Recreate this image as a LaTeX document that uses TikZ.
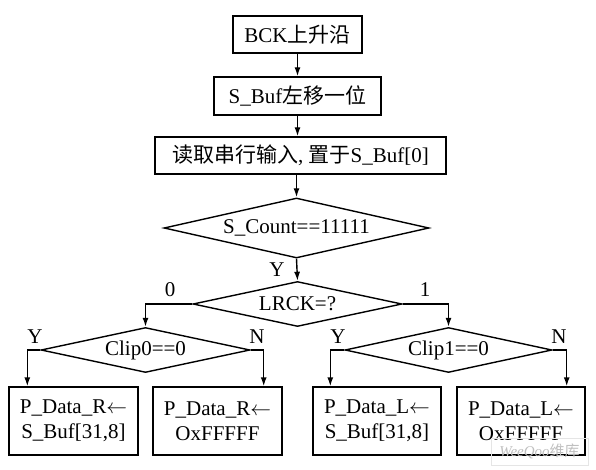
\documentclass[tikz,border=0pt]{standalone}
\usepackage{fontspec}
\setmainfont{Liberation Serif}
\newfontfamily\cjkfont{Noto Sans CJK SC}
\newcommand{\zh}[1]{{\cjkfont #1}}
\usetikzlibrary{shapes.geometric,arrows.meta,calc}
\begin{document}
\begin{tikzpicture}[x=1pt,y=-1pt,
  every node/.style={font=\fontsize{21}{25}\selectfont},
  procbox/.style={draw, line width=1.4pt, rectangle, inner sep=0pt, align=center},
  decision/.style={draw, line width=1.4pt, diamond, inner sep=0pt},
  lbl/.style={inner sep=0pt},
  arr/.style={line width=1.4pt, -{Latex[length=9pt,width=6pt]}},
  wm/.style={font=\itshape\fontsize{15}{15}\selectfont, text=black!25, draw=black!10, line width=0.6pt, minimum width=97pt, minimum height=27pt, inner sep=0pt}
]
\useasboundingbox (0,0) rectangle (596,470);

\node[procbox, minimum width=129pt, minimum height=37pt] (b1) at (297.5,34.5) {BCK\zh{上升沿}};
\node[procbox, minimum width=167pt, minimum height=38pt] (b2) at (297.5,96) {S\_Buf\zh{左移一位}};
\node[procbox, minimum width=291pt, minimum height=37pt] (b3) at (300.5,155.5) {\zh{读取串行输入}, \zh{置于}S\_Buf[0]};

\node[decision, aspect=4.4, minimum width=265pt, minimum height=60pt] (d1) at (296.5,228) {S\_Count==11111};
\node[decision, aspect=4.6, minimum width=209pt, minimum height=45pt] (d2) at (297.5,304) {LRCK=?};
\node[decision, aspect=4.6, minimum width=209pt, minimum height=45pt] (c0) at (145.5,350) {Clip0==0};
\node[decision, aspect=4.6, minimum width=207pt, minimum height=45pt] (c1) at (448.5,350) {Clip1==0};

\node[procbox, minimum width=129pt, minimum height=68pt] (r1) at (73.5,421) {P\_Data\_R$\leftarrow$\\S\_Buf[31,8]};
\node[procbox, minimum width=129pt, minimum height=68pt] (r2) at (217.5,421) {P\_Data\_R$\leftarrow$\\OxFFFFF};
\node[procbox, minimum width=128pt, minimum height=68pt] (l1) at (377,421) {P\_Data\_L$\leftarrow$\\S\_Buf[31,8]};
\node[procbox, minimum width=128pt, minimum height=68pt] (l2) at (521,421) {P\_Data\_L$\leftarrow$\\OxFFFFF};

\draw[arr] (b1.south) -- (b2.north);
\draw[arr] (b2.south) -- (b2.south |- b3.north);
\draw[arr] (b3.south -| d1.north) -- (d1.north);
\draw[arr] (d1.south) -- (d2.north);
\draw[arr] (d2.west) -| (c0.north);
\draw[arr] (d2.east) -| (c1.north);
\draw[arr] (c0.west) -| ($(r1.north west)+(19,0)$);
\draw[arr] (c0.east) -| ($(r2.north east)+(-19,0)$);
\draw[arr] (c1.west) -| ($(l1.north west)+(18,0)$);
\draw[arr] (c1.east) -| ($(l2.north east)+(-19,0)$);

\node[lbl] (ly) at (277,270) {Y};
\node[lbl] (l0) at (170,290) {0};
\node[lbl] (l1t) at (425,290) {1};
\node[lbl] (c0y) at (35,337) {Y};
\node[lbl] (c0n) at (257,337) {N};
\node[lbl] (c1y) at (338,337) {Y};
\node[lbl] (c1n) at (559,337) {N};

\node[wm] (wmk) at (539.5,451.5) {WeeQoo\zh{\upshape 维库}};
\end{tikzpicture}
\end{document}
